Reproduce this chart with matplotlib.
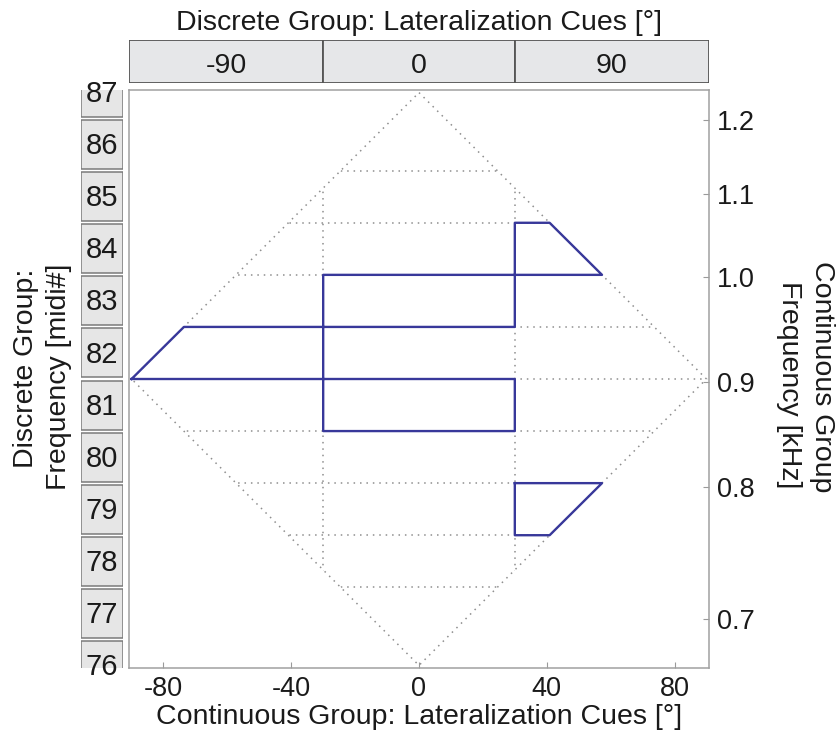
import matplotlib
matplotlib.use("Agg")
import matplotlib.pyplot as plt
from matplotlib.patches import Rectangle, Polygon

plt.rcParams["font.family"] = ["Liberation Sans", "DejaVu Sans"]

# diamond shaped stimulus space (lateralization x semitones)
diamond_x = [0, 90, 0, -90]
diamond_y = [87, 81.5, 76, 81.5]
grid_levels = [77.5, 78.5, 79.5, 80.5, 81.5, 82.5, 83.5, 84.5, 85.5]
grid_cols = [-30, 30]

# blue outlines
path_a_x = [-90, -73.6, 30, 30, 40.9, 57.3, -30, -30, 30, 30, -90]
path_a_y = [81.5, 82.5, 82.5, 84.5, 84.5, 83.5, 83.5, 80.5, 80.5, 81.5, 81.5]
path_b_x = [30, 57.3, 40.9, 30, 30]
path_b_y = [79.5, 79.5, 78.5, 78.5, 79.5]

# axes labelling
x_ticks = [-80, -40, 0, 40, 80]
khz_labels = ["0.7", "0.8", "0.9", "1.0", "1.1", "1.2"]
khz_pos = [76.89, 79.43, 81.44, 83.46, 85.05, 86.47]
top_groups = ["-90", "0", "90"]
top_edges = [-90.8, -30, 30, 90.8]
midi_rows = [76, 77, 78, 79, 80, 81, 82, 83, 84, 85, 86, 87]

XL = (-90.8, 90.8)
YL = (75.95, 87.05)
W, H = 836, 734
TXT = "#1a1a1a"
DOT = dict(color="#8e8e8e", lw=1.1, ls=(0, (1, 3.2)))

fig = plt.figure(figsize=(W / 100, H / 100), dpi=100)
ax = fig.add_axes([129 / W, 1 - 668 / H, 580 / W, 578 / H])
axt = fig.add_axes([129 / W, 1 - 82.7 / H, 580 / W, 42.7 / H])
axl = fig.add_axes([80.7 / W, 1 - 668 / H, 42 / W, 578 / H])

# dotted grid clipped to the diamond
dia = Polygon(list(zip(diamond_x, diamond_y)), closed=True, fill=False,
              ec=DOT["color"], lw=DOT["lw"], ls=DOT["ls"])
ax.add_patch(dia)
for y in grid_levels:
    ln = ax.axhline(y, **DOT)
    ln.set_clip_path(dia)
for x in grid_cols:
    ln = ax.axvline(x, **DOT)
    ln.set_clip_path(dia)

ax.plot(path_a_x, path_a_y, color="#38389a", lw=1.7, zorder=5)
ax.plot(path_b_x, path_b_y, color="#38389a", lw=1.7, zorder=5)

ax.set_xlim(*XL)
ax.set_ylim(*YL)
ax.set_xticks(x_ticks)
ax.set_xticklabels([str(t) for t in x_ticks])
ax.set_yticks(khz_pos)
ax.set_yticklabels(khz_labels)
ax.tick_params(axis="x", direction="in", length=4, width=0.8, color="#9a9a9a",
               labelsize=19.5, labelcolor=TXT, pad=6)
ax.tick_params(axis="y", direction="in", length=4, width=0.8, color="#9a9a9a",
               labelsize=19.5, labelcolor=TXT, pad=6, left=False, labelleft=False,
               right=True, labelright=True)
for s in ax.spines.values():
    s.set_color("#a0a0a0")
    s.set_linewidth(1.1)

# top strip (discrete lateralization)
axt.set_xlim(*XL)
axt.set_ylim(0, 1)
axt.axis("off")
for i, g in enumerate(top_groups):
    a, b = top_edges[i], top_edges[i + 1]
    axt.add_patch(Rectangle((a, 0), b - a, 1, fc="#e6e7e9", ec="#555555", lw=1.3))
    axt.text((a + b) / 2, 0.38, g, ha="center", va="center", fontsize=20.5, color=TXT)

# left strip (discrete midi)
axl.set_xlim(0, 1)
axl.set_ylim(*YL)
axl.axis("off")
for m in midi_rows:
    axl.add_patch(Rectangle((0, m - 0.47), 1, 0.94, fc="#e6e6e6", ec="#7a7a7a", lw=1.1))
    axl.text(0.5, m - 0.03, str(m), ha="center", va="center", fontsize=21,
             color=TXT, clip_on=False)

fig.text(419 / W, 1 - 30 / H, "Discrete Group: Lateralization Cues [°]",
         ha="center", va="baseline", fontsize=20.5, color=TXT)
fig.text(419 / W, 1 - 724 / H, "Continuous Group: Lateralization Cues [°]",
         ha="center", va="baseline", fontsize=20.5, color=TXT)
fig.text(26 / W, 1 - 368 / H, "Discrete Group:", rotation=90,
         ha="center", va="center", fontsize=20.5, color=TXT)
fig.text(59 / W, 1 - 377 / H, "Frequency [midi#]", rotation=90,
         ha="center", va="center", fontsize=20.5, color=TXT)
fig.text(822 / W, 1 - 377 / H, "Continuous Group", rotation=-90,
         ha="center", va="center", fontsize=20.5, color=TXT)
fig.text(789 / W, 1 - 385 / H, "Frequency [kHz]", rotation=-90,
         ha="center", va="center", fontsize=20.5, color=TXT)

fig.savefig("out.png", dpi=100, facecolor="white")
